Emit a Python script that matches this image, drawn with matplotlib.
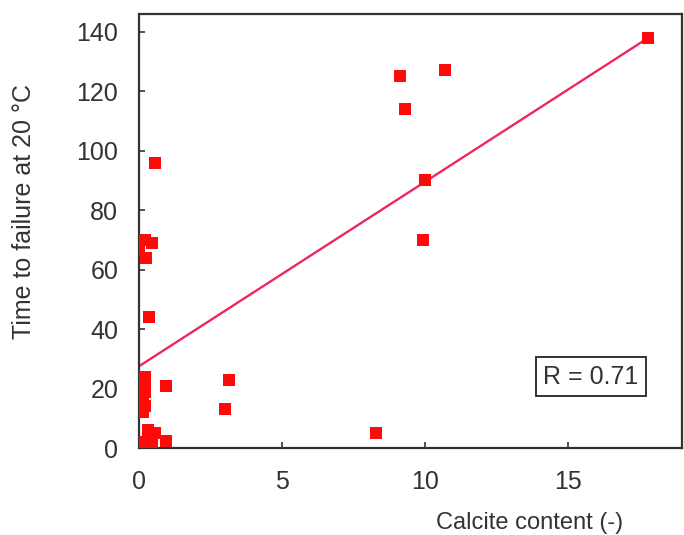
import numpy as np
import matplotlib
matplotlib.use("Agg")
import matplotlib.pyplot as plt

plt.rcParams["font.family"] = ["Liberation Sans", "DejaVu Sans"]

# calcite content vs. time to failure at 20 °C
calcite = [17.8, 9.15, 10.7, 9.3, 10.0, 9.95, 8.3, 3.15, 3.0,
           0.55, 0.2, 0.45, 0.0, 0.25, 0.35, 0.95,
           0.2, 0.2, 0.2, 0.15, 0.2, 0.15,
           0.3, 0.55, 0.1, 0.45, 0.95]
time_fail = [138, 125, 127, 114, 90, 70, 5, 23, 13,
             96, 70, 69, 67, 64, 44, 21,
             24, 21, 19, 16, 14, 12,
             6, 5, 2, 2, 2.5]

# linear fit shown on the plot
fit_intercept = 27.5
fit_slope = 6.2
r_value = 0.71

fig = plt.figure(figsize=(6.84, 5.35), dpi=100)
ax = fig.add_axes([0.2032, 0.1626, 0.7938, 0.8112])

ax.plot(calcite, time_fail, "s", color="#ff0a0a", markersize=8.5, markeredgewidth=0, zorder=3)

xfit = np.array([0, max(calcite)])
ax.plot(xfit, fit_intercept + fit_slope * xfit, color="#f0285a", lw=1.7, zorder=2)

ax.set_xlim(0, 19)
ax.set_ylim(0, 146)
ax.set_xticks([0, 5, 10, 15])
ax.set_yticks(np.arange(0, 141, 20))

ax.tick_params(direction="in", length=4, width=1.2, labelsize=18,
               colors="#333333", labelcolor="#333333")
ax.tick_params(axis="y", pad=15)
ax.tick_params(axis="x", pad=16)
for s in ax.spines.values():
    s.set_linewidth(1.6)
    s.set_color("#333333")

ax.set_ylabel("Time to failure at 20 °C", fontsize=18, color="#333333")
ax.yaxis.set_label_coords(-0.19, 0.545)
ax.set_xlabel("Calcite content (-)", fontsize=17, color="#333333")
ax.xaxis.set_label_coords(0.72, -0.148)

ax.text(0.832, 0.164, f"R = {r_value:.2f}", transform=ax.transAxes,
        ha="center", va="center", fontsize=18, color="#333333",
        bbox=dict(boxstyle="square,pad=0.3", fc="white", ec="#333333", lw=1.4))

fig.savefig("out.png", dpi=100)
